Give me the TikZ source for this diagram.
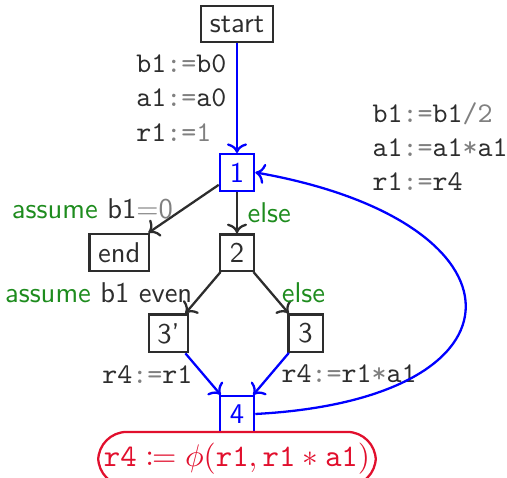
\documentclass[tikz,border=0pt]{standalone}
\usepackage{amsmath,amssymb,mathtools}
\usepackage{tikz}
\usetikzlibrary{arrows.meta,positioning}
\definecolor{OpGray}{RGB}{128,128,128}
\definecolor{AssumeGreen}{RGB}{30,140,30}
\definecolor{PhiRed}{RGB}{225,15,45}
\definecolor{InkGray}{RGB}{45,45,45}
\newcommand{\asgn}{\textcolor{OpGray}{:=}}
\newcommand{\opg}[1]{\textcolor{OpGray}{#1}}

\begin{document}
\begin{tikzpicture}[
    font=\sffamily,
    blk/.style={draw=InkGray, thick, text=InkGray, minimum width=12pt, minimum height=12.5pt, inner sep=3pt},
    hot/.style={blk, draw=blue, text=blue},
    arr/.style={->, thick, InkGray},
    harr/.style={->, thick, blue},
    code/.style={font=\ttfamily, align=left, text=InkGray},
    cond/.style={text=InkGray}
  ]
  \useasboundingbox (-82.95pt,8.4pt) rectangle (94.5pt,-158.55pt);
  \node[blk] (start) {start};
  \node[hot, below=38.5pt of start] (n1) {1};
  \node[blk, below=14.5pt of n1] (n2) {2};
  \node[blk, left=24pt of n2] (nend) {end};
  \node[blk, below=14.5pt of n2, xshift=-24pt] (n3p) {3'};
  \node[blk, below=14.5pt of n2, xshift=24pt] (n3) {3};
  \node[hot, below=43pt of n2] (n4) {4};
  \node[below=-0.8pt of n4, draw=PhiRed, thick, text=PhiRed, rounded corners=10pt,
        inner xsep=2pt, inner ysep=4pt, font=\fontsize{10.5}{12}\selectfont] (phi)
    {$\mathtt{r4} \coloneqq \phi(\mathtt{r1}, \mathtt{r1} * \mathtt{a1})$};
  \node[code, right=37.5pt of n1, yshift=9pt] (upd) {b1\asgn b1\opg{/2}\\a1\asgn a1\opg{*}a1\\r1\asgn r4};

  \draw[harr] (start) -- node[code, left] {b1\asgn b0\\a1\asgn a0\\r1\asgn\opg{1}} (n1);
  \draw[arr] (n1) -- node[cond, left] {\textcolor{AssumeGreen}{assume} b1\opg{=0}} (nend);
  \draw[arr] (n1) -- node[right, text=AssumeGreen] {else} (n2);
  \draw[arr] (n2) -- node[cond, left] {\textcolor{AssumeGreen}{assume} b1 even} (n3p);
  \draw[arr] (n2) -- node[right, text=AssumeGreen] {else} (n3);
  \draw[harr] (n3p) -- node[code, left] {r4\asgn r1} (n4);
  \draw[harr] (n3) -- node[code, right] {r4\asgn r1\opg{*}a1} (n4);
  \draw[harr] (n4.east) to[out=3, in=-10, looseness=3] (n1.east);
\end{tikzpicture}
\end{document}
